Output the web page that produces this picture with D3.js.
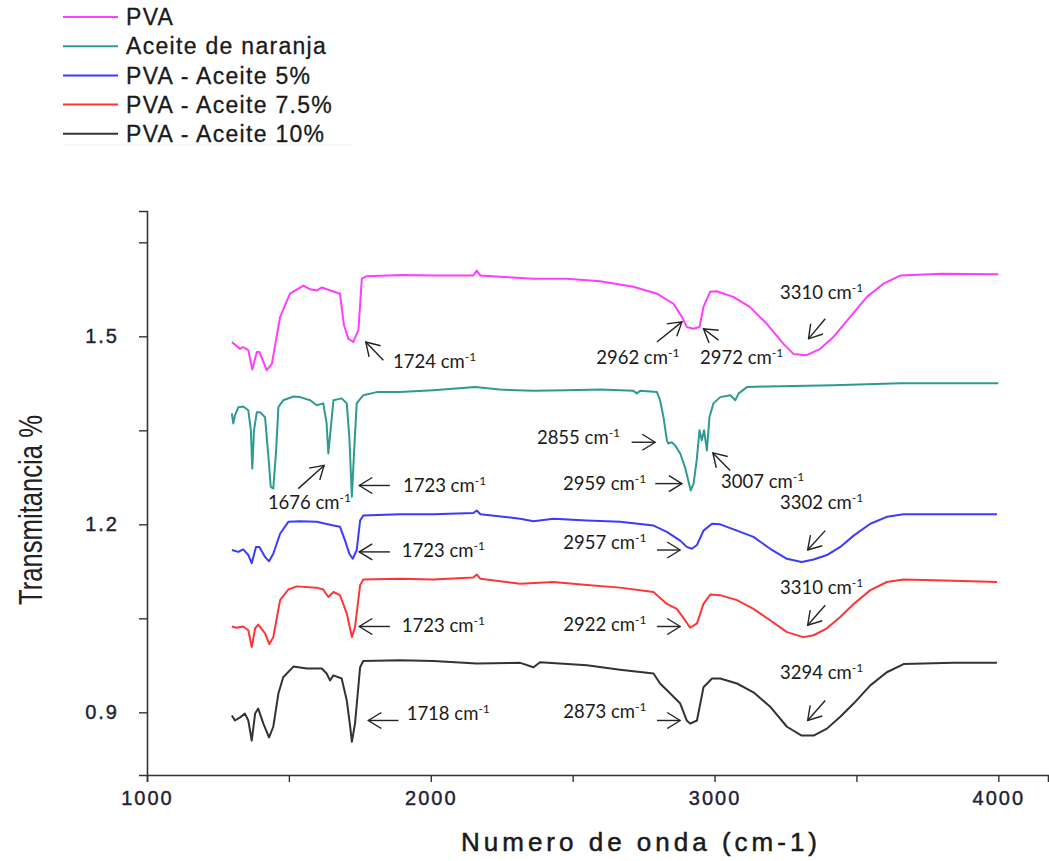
<!DOCTYPE html>
<html>
<head>
<meta charset="utf-8">
<script src="https://cdn.jsdelivr.net/npm/d3@7"></script>
<style>
  body { margin: 0; background: #fff; }
  svg { display: block; }
</style>
</head>
<body>
<div id="chart"></div>
<script>
// Series names (legend order) and line colours
const seriesNames = ["PVA", "Aceite de naranja", "PVA - Aceite 5%", "PVA - Aceite 7.5%", "PVA - Aceite 10%"];
const seriesColors = ["#ff3dff", "#2e9a93", "#3b3bff", "#ff3535", "#333333"];

// Spectra: [wavenumber cm-1, transmittance]
const pva = [
  [1299,1.491],[1328,1.480],[1339,1.483],[1357,1.478],[1371,1.447],[1387,1.475],[1396,1.475],[1422,1.446],
  [1440,1.456],[1469,1.531],[1504,1.568],[1551,1.581],[1575,1.575],[1598,1.573],[1616,1.578],[1680,1.568],
  [1694,1.518],[1710,1.496],[1727,1.491],[1745,1.510],[1757,1.592],[1774,1.596],[1900,1.598],[2009,1.597],
  [2150,1.597],[2162,1.605],[2175,1.597],[2244,1.595],[2362,1.592],[2479,1.592],[2597,1.588],[2714,1.579],
  [2797,1.568],[2855,1.552],[2885,1.531],[2902,1.515],[2926,1.512],[2947,1.515],[2961,1.547],[2984,1.571],
  [3008,1.572],[3066,1.563],[3124,1.547],[3184,1.520],[3243,1.488],[3278,1.472],[3325,1.470],[3372,1.480],
  [3419,1.499],[3478,1.531],[3537,1.563],[3595,1.584],[3654,1.597],[3800,1.600],[4000,1.599]
];
const aceite = [
  [1299,1.377],[1304,1.361],[1310,1.374],[1322,1.387],[1339,1.388],[1357,1.382],[1366,1.350],[1371,1.289],
  [1377,1.350],[1387,1.379],[1398,1.379],[1416,1.371],[1428,1.307],[1436,1.260],[1445,1.257],[1455,1.318],
  [1463,1.387],[1480,1.398],[1516,1.404],[1539,1.403],[1575,1.398],[1598,1.390],[1621,1.393],[1633,1.361],
  [1639,1.313],[1648,1.355],[1657,1.398],[1686,1.401],[1704,1.393],[1713,1.339],[1722,1.244],[1730,1.318],
  [1739,1.393],[1762,1.406],[1810,1.411],[1892,1.411],[2009,1.414],[2156,1.419],[2244,1.415],[2362,1.413],
  [2479,1.414],[2597,1.415],[2714,1.413],[2726,1.409],[2738,1.413],[2797,1.411],[2808,1.398],[2820,1.371],
  [2832,1.334],[2837,1.329],[2849,1.331],[2861,1.326],[2879,1.313],[2896,1.291],[2916,1.254],[2926,1.265],
  [2937,1.302],[2947,1.350],[2955,1.334],[2963,1.350],[2973,1.318],[2982,1.371],[2996,1.393],[3020,1.403],
  [3056,1.406],[3073,1.398],[3085,1.409],[3114,1.419],[3184,1.420],[3419,1.422],[3654,1.425],[4000,1.425]
];
const aceite5 = [
  [1299,1.159],[1322,1.156],[1339,1.160],[1357,1.151],[1369,1.138],[1384,1.164],[1396,1.164],[1416,1.148],
  [1430,1.141],[1445,1.153],[1469,1.185],[1498,1.204],[1539,1.205],[1598,1.204],[1657,1.198],[1680,1.196],
  [1698,1.174],[1713,1.153],[1725,1.145],[1739,1.159],[1751,1.206],[1762,1.214],[1892,1.216],[2009,1.216],
  [2150,1.218],[2162,1.222],[2175,1.216],[2315,1.209],[2362,1.205],[2432,1.209],[2550,1.206],[2667,1.204],
  [2785,1.198],[2832,1.188],[2879,1.174],[2902,1.164],[2920,1.161],[2938,1.167],[2961,1.190],[2991,1.201],
  [3020,1.200],[3079,1.190],[3137,1.180],[3196,1.161],[3255,1.145],[3307,1.140],[3349,1.144],[3396,1.151],
  [3443,1.164],[3490,1.182],[3549,1.201],[3607,1.212],[3666,1.216],[3842,1.216],[3995,1.216]
];
const aceite75 = [
  [1299,1.037],[1316,1.035],[1339,1.037],[1357,1.031],[1369,1.004],[1381,1.034],[1392,1.040],[1416,1.026],
  [1431,1.009],[1445,1.020],[1469,1.079],[1498,1.096],[1528,1.101],[1598,1.099],[1621,1.096],[1639,1.084],
  [1657,1.092],[1680,1.087],[1704,1.058],[1722,1.020],[1733,1.036],[1751,1.103],[1762,1.112],[1892,1.113],
  [2009,1.112],[2150,1.115],[2162,1.120],[2175,1.113],[2315,1.105],[2432,1.108],[2550,1.103],[2667,1.099],
  [2785,1.092],[2832,1.073],[2867,1.065],[2896,1.047],[2914,1.035],[2938,1.042],[2961,1.073],[2985,1.088],
  [3020,1.087],[3079,1.079],[3137,1.065],[3196,1.047],[3255,1.028],[3313,1.020],[3349,1.023],[3396,1.034],
  [3443,1.052],[3490,1.073],[3549,1.095],[3607,1.108],[3666,1.112],[3842,1.110],[3995,1.108]
];
const aceite10 = [
  [1299,0.895],[1310,0.887],[1328,0.892],[1345,0.898],[1357,0.887],[1369,0.855],[1381,0.898],[1392,0.906],
  [1410,0.882],[1430,0.860],[1445,0.877],[1463,0.930],[1480,0.956],[1516,0.973],[1563,0.970],[1616,0.970],
  [1633,0.962],[1645,0.951],[1657,0.959],[1686,0.954],[1704,0.919],[1716,0.877],[1722,0.853],[1733,0.882],
  [1751,0.972],[1762,0.982],[1892,0.983],[2009,0.982],[2162,0.978],[2315,0.979],[2362,0.972],[2385,0.980],
  [2550,0.975],[2667,0.968],[2785,0.962],[2808,0.946],[2844,0.930],[2879,0.914],[2902,0.887],[2914,0.882],
  [2938,0.887],[2961,0.940],[2991,0.954],[3020,0.954],[3079,0.946],[3137,0.932],[3196,0.909],[3255,0.877],
  [3307,0.863],[3349,0.863],[3396,0.874],[3443,0.893],[3490,0.914],[3549,0.943],[3607,0.964],[3666,0.977],
  [3842,0.979],[3995,0.979]
];
const seriesData = [pva, aceite, aceite5, aceite75, aceite10];

// Axis ticks
const xTicks = [1000, 1500, 2000, 2500, 3000, 3500, 4000];
const xTickLabels = {1000: "1000", 2000: "2000", 3000: "3000", 4000: "4000"};
const yTicks = [0.9, 1.05, 1.2, 1.35, 1.5, 1.65];
const yTickLabels = {"0.9": "0.9", "1.2": "1.2", "1.5": "1.5"};

// Peak labels: [label, tip wn, tip T, tail wn, tail T, text wn, text T]
const peaks = [
  ["1724", 1771, 1.491, 1833, 1.462, 1867, 1.459],
  ["1676", 1624, 1.294, 1533, 1.257, 1426, 1.234],
  ["1723", 1748, 1.262, 1856, 1.262, 1902, 1.261],
  ["2962", 2885, 1.523, 2797, 1.491, 2583, 1.465],
  ["2972", 2961, 1.512, 3014, 1.494, 2949, 1.465],
  ["3310", 3331, 1.496, 3390, 1.528, 3231, 1.569],
  ["2855", 2791, 1.331, 2708, 1.331, 2374, 1.337],
  ["2959", 2885, 1.265, 2791, 1.265, 2466, 1.265],
  ["3007", 2994, 1.314, 3055, 1.286, 3023, 1.267],
  ["3302", 3328, 1.159, 3390, 1.190, 3231, 1.234],
  ["1723", 1748, 1.156, 1856, 1.156, 1898, 1.157],
  ["2957", 2879, 1.159, 2797, 1.159, 2467, 1.171],
  ["1723", 1748, 1.037, 1856, 1.037, 1898, 1.037],
  ["2922", 2879, 1.037, 2797, 1.037, 2467, 1.039],
  ["3310", 3328, 1.039, 3390, 1.071, 3231, 1.098],
  ["1718", 1780, 0.887, 1886, 0.887, 1915, 0.898],
  ["2873", 2879, 0.887, 2797, 0.887, 2467, 0.900],
  ["3294", 3328, 0.887, 3390, 0.919, 3231, 0.963]
];

const width = 1049, height = 861;
const svg = d3.select("#chart").append("svg")
  .attr("width", width)
  .attr("height", height)
  .style("background", "#fff");

const x = d3.scaleLinear().domain([1000, 4175]).range([147, 1048]);
const y = d3.scaleLinear().domain([0.8, 1.7]).range([775, 211]);

const axisFont = "'Liberation Sans', Arial, sans-serif";

// X axis
const xAxis = svg.append("g")
  .attr("transform", `translate(0,${y(0.8)})`)
  .call(d3.axisBottom(x).tickValues(xTicks).tickSizeOuter(0).tickSize(7).tickPadding(9)
    .tickFormat(d => xTickLabels[d] || ""));
// Y axis
const yAxis = svg.append("g")
  .attr("transform", `translate(${x(1000)},0)`)
  .call(d3.axisLeft(y).tickValues(yTicks).tickSizeOuter(0).tickSize(8).tickPadding(20)
    .tickFormat(d => yTickLabels[String(d)] || ""));

[xAxis, yAxis].forEach(g => {
  g.select(".domain").attr("stroke", "#333").attr("stroke-width", 1.6);
  g.selectAll(".tick line").attr("stroke", "#333").attr("stroke-width", 1.4);
  g.selectAll(".tick text")
    .attr("fill", "#222233")
    .attr("stroke", "#222233")
    .attr("stroke-width", 0.4)
    .style("font-family", axisFont)
    .style("font-size", "20px")
    .style("letter-spacing", "2px");
});

// Axis titles
svg.append("text")
  .attr("x", 641).attr("y", 851)
  .attr("text-anchor", "middle")
  .style("font-family", axisFont)
  .style("font-size", "26px")
  .style("letter-spacing", "4px")
  .attr("fill", "#1a1a1a")
  .attr("stroke", "#1a1a1a")
  .attr("stroke-width", 0.5)
  .text("Numero de onda (cm-1)");

svg.append("text")
  .attr("transform", "translate(42,510) rotate(-90)")
  .attr("text-anchor", "middle")
  .attr("textLength", 190)
  .attr("lengthAdjust", "spacingAndGlyphs")
  .style("font-family", axisFont)
  .style("font-size", "33px")
  .attr("fill", "#222")
  .text("Transmitancia %");

// Spectra
const line = d3.line().x(d => x(d[0])).y(d => y(d[1]));
svg.append("g")
  .selectAll("path")
  .data(seriesData)
  .join("path")
    .attr("d", line)
    .attr("fill", "none")
    .attr("stroke", (d, i) => seriesColors[i])
    .attr("stroke-width", 2)
    .attr("stroke-linejoin", "round");

// Open arrow heads
svg.append("defs").append("marker")
  .attr("id", "arrow")
  .attr("viewBox", "0 0 15 18")
  .attr("refX", 14).attr("refY", 9)
  .attr("markerWidth", 15).attr("markerHeight", 18)
  .attr("markerUnits", "userSpaceOnUse")
  .attr("orient", "auto")
  .append("path")
    .attr("d", "M1,1 L14,9 L1,17")
    .attr("fill", "none")
    .attr("stroke", "#222")
    .attr("stroke-width", 1.4);

const ann = svg.append("g");
ann.selectAll("line")
  .data(peaks)
  .join("line")
    .attr("x1", d => x(d[3])).attr("y1", d => y(d[4]))
    .attr("x2", d => x(d[1])).attr("y2", d => y(d[2]))
    .attr("stroke", "#222")
    .attr("stroke-width", 1.4)
    .attr("marker-end", "url(#arrow)");

const labels = ann.selectAll("text")
  .data(peaks)
  .join("text")
    .attr("x", d => x(d[5]))
    .attr("y", d => y(d[6]) + 6)
    .style("font-family", "Lato, 'Open Sans', sans-serif")
    .style("font-size", "18.5px")
    .attr("fill", "#1a1a1a");
labels.append("tspan").text(d => d[0] + " cm");
labels.append("tspan").attr("dy", -7).style("font-size", "12px").text("-1");

// Legend
const legend = svg.append("g");
const rows = legend.selectAll("g")
  .data(seriesNames)
  .join("g")
    .attr("transform", (d, i) => `translate(63,${17 + i * 29.2})`);
rows.append("line")
  .attr("x1", 0).attr("x2", 55)
  .attr("stroke", (d, i) => seriesColors[i])
  .attr("stroke-width", 2);
rows.append("text")
  .attr("x", 63).attr("dy", "0.36em")
  .style("font-family", axisFont)
  .style("font-size", "23px")
  .style("letter-spacing", "1.3px")
  .attr("fill", "#1a1a1a")
  .attr("stroke", "#1a1a1a")
  .attr("stroke-width", 0.3)
  .text(d => d);
legend.append("line")
  .attr("x1", 63).attr("x2", 352)
  .attr("y1", 145).attr("y2", 145)
  .attr("stroke", "#eee")
  .attr("stroke-width", 1);
</script>
</body>
</html>
